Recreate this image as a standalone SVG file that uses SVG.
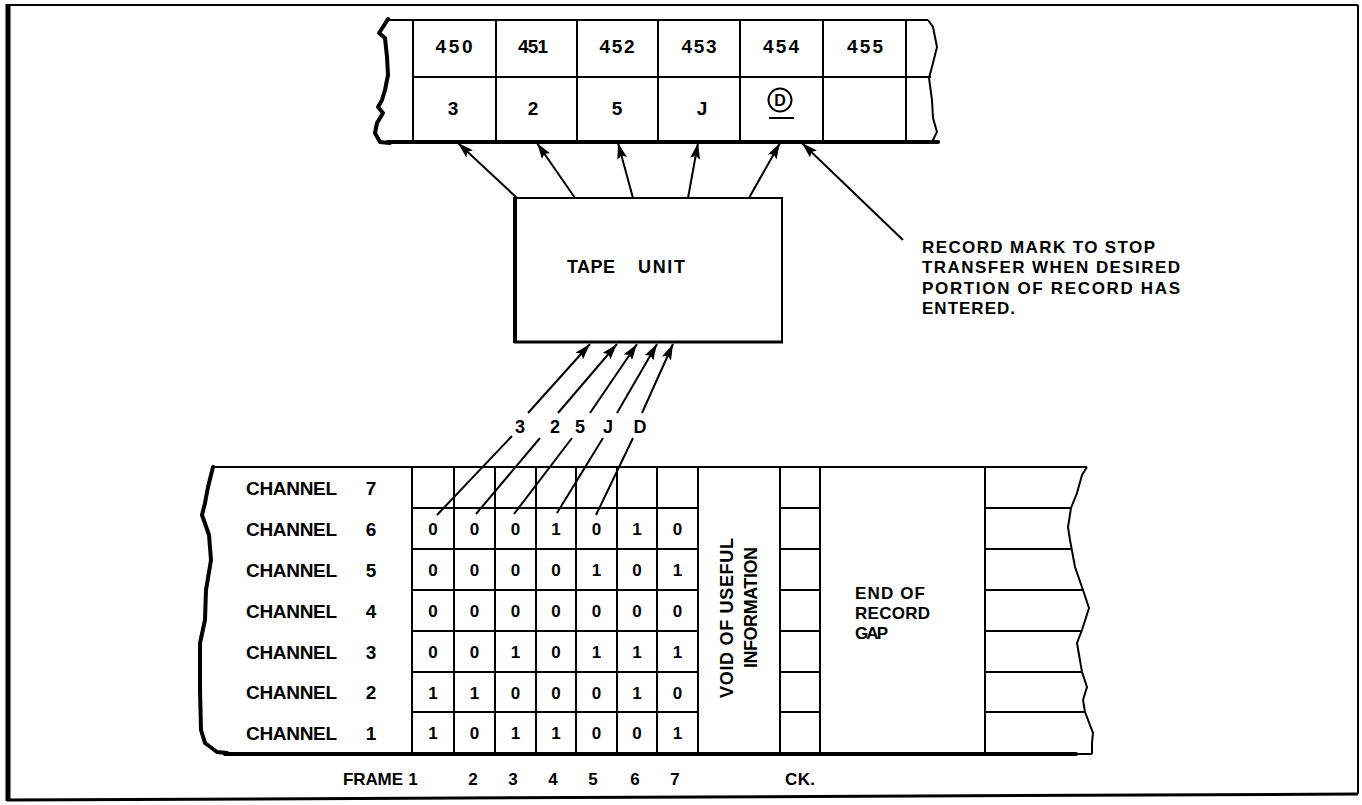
<svg xmlns="http://www.w3.org/2000/svg" width="1362" height="805" viewBox="0 0 1362 805">
<style>
.t{font-family:"Liberation Sans",Arial,Helvetica,sans-serif;font-weight:bold;fill:#000}
.c{text-anchor:middle}
.ln{stroke:#000;stroke-width:2;fill:none}
.tk{stroke:#000;stroke-width:4;fill:none;stroke-linejoin:round;stroke-linecap:round}
.ar{stroke:#000;stroke-width:2;fill:none;marker-end:url(#ah)}
</style>
<defs>
<marker id="ah" viewBox="0 0 16 10" refX="16" refY="5" markerWidth="16" markerHeight="10" markerUnits="userSpaceOnUse" orient="auto">
<path d="M0,0 L16,5 L0,10 L3,5 z" fill="#000"/>
</marker>
</defs>
<rect width="1362" height="805" fill="#fff"/>
<g id="frame">
<line x1="7" y1="5" x2="1358" y2="5" class="ln"/>
<line x1="1358" y1="5" x2="1358" y2="794" class="ln"/>
<line x1="7" y1="800" x2="1358" y2="794" stroke="#000" stroke-width="3"/>
<line x1="8" y1="4" x2="8" y2="801" stroke="#000" stroke-width="5"/>
</g>
<g id="memory-tape">
<line x1="387" y1="20" x2="928" y2="20" class="ln"/>
<line x1="413" y1="77" x2="931" y2="77" class="ln"/>
<line x1="388" y1="142" x2="938" y2="142" class="tk"/>
<path d="M388,19 L383,27 L379,33 L385,38 L387,57 L388,75 L385,90 L382,100 L378,107 L383,113 L377,123 L375,133 L380,142 L390,143" class="tk"/>
<path d="M928,20 L933,27 L937,47 L933,63 L929,78 L932,100 L933,118 L937,132 L933,140 L937,143" class="ln"/>
<g class="ln">
<line x1="413" y1="20" x2="413" y2="142"/>
<line x1="496" y1="20" x2="496" y2="142"/>
<line x1="577" y1="20" x2="577" y2="142"/>
<line x1="658" y1="20" x2="658" y2="142"/>
<line x1="740" y1="20" x2="740" y2="142"/>
<line x1="823" y1="20" x2="823" y2="142"/>
<line x1="906" y1="20" x2="906" y2="142"/>
</g>
<g class="t c" font-size="19">
<text x="454" y="53" textLength="37" lengthAdjust="spacing">450</text>
<text x="533" y="53" textLength="30" lengthAdjust="spacing">451</text>
<text x="617" y="53" textLength="35" lengthAdjust="spacing">452</text>
<text x="699" y="53" textLength="35" lengthAdjust="spacing">453</text>
<text x="781" y="53" textLength="36" lengthAdjust="spacing">454</text>
<text x="865" y="53" textLength="36" lengthAdjust="spacing">455</text>
<text x="453" y="115">3</text>
<text x="533" y="115">2</text>
<text x="617" y="115">5</text>
<text x="702" y="115">J</text>
</g>
<circle cx="780" cy="100" r="11.5" class="ln"/>
<text x="780" y="106" class="t c" font-size="16">D</text>
<line x1="769" y1="118" x2="794" y2="118" class="ln"/>
</g>
<g id="tape-unit">
<rect x="515" y="198" width="267" height="144" class="ln"/>
<line x1="515" y1="197" x2="515" y2="343" stroke="#000" stroke-width="4"/>
<line x1="514" y1="342" x2="783" y2="342" stroke="#000" stroke-width="3"/>
<text x="567" y="273" class="t" font-size="18" textLength="48" lengthAdjust="spacing">TAPE</text>
<text x="638" y="273" class="t" font-size="18" textLength="47" lengthAdjust="spacing">UNIT</text>
</g>
<g id="record-mark-note" class="t" font-size="17">
<text x="922" y="253" textLength="233" lengthAdjust="spacing">RECORD MARK TO STOP</text>
<text x="922" y="273" textLength="258" lengthAdjust="spacing">TRANSFER WHEN DESIRED</text>
<text x="922" y="294" textLength="258" lengthAdjust="spacing">PORTION OF RECORD HAS</text>
<text x="922" y="314" textLength="93" lengthAdjust="spacing">ENTERED.</text>
</g>
<g id="character-labels" class="t c" font-size="18">
<text x="520" y="433">3</text>
<text x="555" y="433">2</text>
<text x="580" y="433">5</text>
<text x="608" y="433">J</text>
<text x="640" y="433">D</text>
</g>
<g id="magnetic-tape">
<line x1="213" y1="467" x2="1087" y2="467" class="ln"/>
<line x1="225" y1="754" x2="1076" y2="754" class="tk"/>
<line x1="1076" y1="754" x2="1092" y2="754" class="ln"/>
<path d="M213,467 L208,487 L205,503 L202,515 L209,535 L211,560 L206,590 L205,620 L200,643 L200,690 L201,730 L205,743 L217,752 L227,753" class="tk"/>
<path d="M1087,467 L1082,475 L1077,493 L1071,508 L1068,527 L1070,540 L1075,567 L1083,590 L1089,608 L1082,630 L1077,643 L1082,672 L1087,687 L1083,700 L1085,712 L1093,733 L1092,743 L1092,754" class="ln"/>
<g class="ln">
<line x1="412" y1="467" x2="412" y2="754"/>
<line x1="454" y1="467" x2="454" y2="754"/>
<line x1="495" y1="467" x2="495" y2="754"/>
<line x1="536" y1="467" x2="536" y2="754"/>
<line x1="576" y1="467" x2="576" y2="754"/>
<line x1="617" y1="467" x2="617" y2="754"/>
<line x1="657" y1="467" x2="657" y2="754"/>
<line x1="698" y1="467" x2="698" y2="754"/>
<line x1="780" y1="467" x2="780" y2="754"/>
<line x1="820" y1="467" x2="820" y2="754"/>
<line x1="985" y1="467" x2="985" y2="754"/>
<line x1="412" y1="508" x2="698" y2="508"/>
<line x1="412" y1="549" x2="698" y2="549"/>
<line x1="412" y1="590" x2="698" y2="590"/>
<line x1="412" y1="631" x2="698" y2="631"/>
<line x1="412" y1="672" x2="698" y2="672"/>
<line x1="412" y1="712" x2="698" y2="712"/>
<line x1="780" y1="508" x2="820" y2="508"/>
<line x1="780" y1="549" x2="820" y2="549"/>
<line x1="780" y1="590" x2="820" y2="590"/>
<line x1="780" y1="631" x2="820" y2="631"/>
<line x1="780" y1="672" x2="820" y2="672"/>
<line x1="780" y1="712" x2="820" y2="712"/>
<line x1="985" y1="508" x2="1071" y2="508"/>
<line x1="985" y1="549" x2="1071" y2="549"/>
<line x1="985" y1="590" x2="1083" y2="590"/>
<line x1="985" y1="631" x2="1081" y2="631"/>
<line x1="985" y1="672" x2="1082" y2="672"/>
<line x1="985" y1="712" x2="1085" y2="712"/>
</g>
<g class="t" font-size="19">
<text x="246" y="494.5" textLength="91" lengthAdjust="spacing">CHANNEL</text>
<text x="246" y="535.5" textLength="91" lengthAdjust="spacing">CHANNEL</text>
<text x="246" y="576.5" textLength="91" lengthAdjust="spacing">CHANNEL</text>
<text x="246" y="617.5" textLength="91" lengthAdjust="spacing">CHANNEL</text>
<text x="246" y="658.5" textLength="91" lengthAdjust="spacing">CHANNEL</text>
<text x="246" y="699" textLength="91" lengthAdjust="spacing">CHANNEL</text>
<text x="246" y="739.5" textLength="91" lengthAdjust="spacing">CHANNEL</text>
</g>
<g class="t c" font-size="19">
<text x="371" y="494.5">7</text>
<text x="371" y="535.5">6</text>
<text x="371" y="576.5">5</text>
<text x="371" y="617.5">4</text>
<text x="371" y="658.5">3</text>
<text x="371" y="699">2</text>
<text x="371" y="739.5">1</text>
</g>
<g class="t c" font-size="17">
<text x="433" y="535">0</text><text x="474.5" y="535">0</text><text x="515.5" y="535">0</text><text x="556" y="535">1</text><text x="596.5" y="535">0</text><text x="637" y="535">1</text><text x="677.5" y="535">0</text>
<text x="433" y="576">0</text><text x="474.5" y="576">0</text><text x="515.5" y="576">0</text><text x="556" y="576">0</text><text x="596.5" y="576">1</text><text x="637" y="576">0</text><text x="677.5" y="576">1</text>
<text x="433" y="617">0</text><text x="474.5" y="617">0</text><text x="515.5" y="617">0</text><text x="556" y="617">0</text><text x="596.5" y="617">0</text><text x="637" y="617">0</text><text x="677.5" y="617">0</text>
<text x="433" y="658">0</text><text x="474.5" y="658">0</text><text x="515.5" y="658">1</text><text x="556" y="658">0</text><text x="596.5" y="658">1</text><text x="637" y="658">1</text><text x="677.5" y="658">1</text>
<text x="433" y="698.5">1</text><text x="474.5" y="698.5">1</text><text x="515.5" y="698.5">0</text><text x="556" y="698.5">0</text><text x="596.5" y="698.5">0</text><text x="637" y="698.5">1</text><text x="677.5" y="698.5">0</text>
<text x="433" y="739">1</text><text x="474.5" y="739">0</text><text x="515.5" y="739">1</text><text x="556" y="739">1</text><text x="596.5" y="739">0</text><text x="637" y="739">0</text><text x="677.5" y="739">1</text>
</g>
<g class="t" font-size="18">
<text transform="translate(733,698) rotate(-90)" textLength="160" lengthAdjust="spacing">VOID OF USEFUL</text>
<text transform="translate(757,668) rotate(-90)" textLength="121" lengthAdjust="spacing">INFORMATION</text>
</g>
<g class="t" font-size="17">
<text x="855" y="599" textLength="70" lengthAdjust="spacing">END OF</text>
<text x="855" y="619" textLength="75" lengthAdjust="spacing">RECORD</text>
<text x="855" y="639" textLength="33" lengthAdjust="spacing">GAP</text>
</g>
</g>
<g id="frame-labels" class="t" font-size="17">
<text x="343" y="785" textLength="60" lengthAdjust="spacing">FRAME</text>
<g class="c">
<text x="413" y="785">1</text>
<text x="473" y="785">2</text>
<text x="513" y="785">3</text>
<text x="553" y="785">4</text>
<text x="593" y="785">5</text>
<text x="635" y="785">6</text>
<text x="675" y="785">7</text>
</g>
<text x="785" y="785" textLength="30" lengthAdjust="spacing">CK.</text>
</g>
<g id="connectors">
<line x1="517" y1="198" x2="458" y2="143" class="ar"/>
<line x1="575" y1="198" x2="537" y2="143" class="ar"/>
<line x1="633" y1="198" x2="618" y2="143" class="ar"/>
<line x1="688" y1="198" x2="698" y2="143" class="ar"/>
<line x1="749" y1="198" x2="780" y2="143" class="ar"/>
<line x1="903" y1="240" x2="802" y2="143" class="ar"/>
<line x1="528" y1="413" x2="590" y2="344" class="ar"/>
<line x1="558" y1="413" x2="617" y2="344" class="ar"/>
<line x1="590" y1="413" x2="637" y2="344" class="ar"/>
<line x1="617" y1="413" x2="657" y2="344" class="ar"/>
<line x1="642" y1="413" x2="673" y2="344" class="ar"/>
<line x1="512" y1="436" x2="437" y2="515" class="ln"/>
<line x1="540" y1="438" x2="476" y2="514" class="ln"/>
<line x1="572" y1="438" x2="514" y2="514" class="ln"/>
<line x1="603" y1="438" x2="557" y2="513" class="ln"/>
<line x1="633" y1="438" x2="596" y2="515" class="ln"/>
</g>
</svg>
